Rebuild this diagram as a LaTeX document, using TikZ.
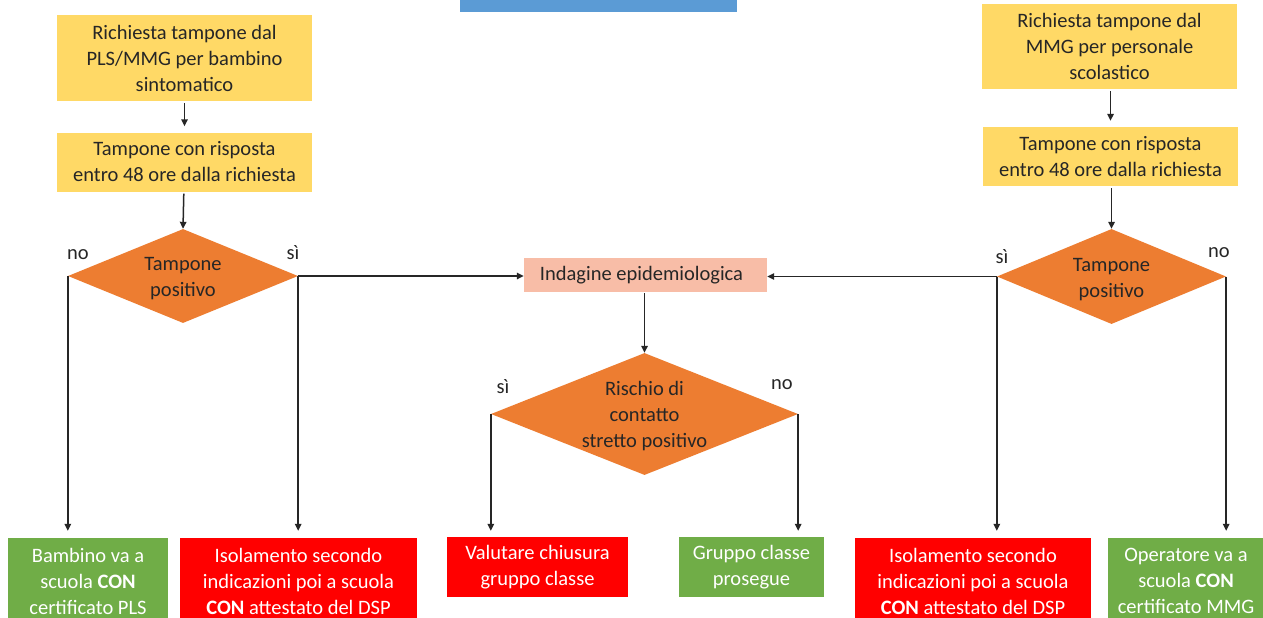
\documentclass[tikz,border=0pt]{standalone}
\usepackage{fontspec}
\setmainfont{Carlito}
\usetikzlibrary{shapes.geometric,arrows.meta}
\definecolor{ybox}{HTML}{FFD966}
\definecolor{obox}{HTML}{ED7D31}
\definecolor{sbox}{HTML}{F8BDA7}
\definecolor{gbox}{HTML}{70AD47}
\definecolor{rbox}{HTML}{FF0000}
\definecolor{bbar}{HTML}{5B9BD5}
\definecolor{ink}{HTML}{262626}
\definecolor{wire}{HTML}{262626}
\tikzset{
  txt/.style={font=\fontsize{20.5}{26}\selectfont},
  boxnode/.style={rectangle, inner sep=0pt, align=center, txt},
  yellowbox/.style={boxnode, fill=ybox, text=ink},
  greenbox/.style={boxnode, fill=gbox, text=white},
  redbox/.style={boxnode, fill=rbox, text=white},
  decision/.style={diamond, fill=obox, inner sep=0pt},
  dtext/.style={txt, text=ink, align=center},
  flow/.style={draw=wire, line width=1.5pt, -{Triangle[length=7pt,width=6.5pt]}},
  tag/.style={txt, text=ink, inner sep=0pt}
}
\begin{document}
\begin{tikzpicture}[x=1pt,y=-1pt]
\useasboundingbox (0,0) rectangle (1263,618);
\clip (0,0) rectangle (1263,618);
\fill[white] (0,0) rectangle (1263,618);

% title bar (cut off)
\node[rectangle, fill=bbar, minimum width=277pt, minimum height=13pt, inner sep=0pt] (title) at (598.5,6) {};

% left column
\node[yellowbox, minimum width=255pt, minimum height=86pt] (l1) at (184.5,58) {Richiesta tampone dal\\PLS/MMG per bambino\\sintomatico};
\node[yellowbox, minimum width=255pt, minimum height=59pt] (l2) at (184.5,162) {Tampone con risposta\\entro 48 ore dalla richiesta};
\node[decision, minimum width=230pt, minimum height=94pt] (ld) at (183,276) {};
\node[dtext] (ldt) at ([yshift=-3pt]ld.center) {Tampone\\positivo};
\node[tag] (ldno) at (78,255) {no};
\node[tag] (ldsi) at (293,253) {sì};

% right column
\node[yellowbox, minimum width=255pt, minimum height=85pt] (r1) at (1109.5,46.5) {Richiesta tampone dal\\MMG per personale\\scolastico};
\node[yellowbox, minimum width=255pt, minimum height=59pt] (r2) at (1110.5,156.5) {Tampone con risposta\\entro 48 ore dalla richiesta};
\node[decision, minimum width=229pt, minimum height=95pt] (rd) at (1111.5,276.5) {};
\node[dtext] (rdt) at ([yshift=-3pt]rd.center) {Tampone\\positivo};
\node[tag] (rdsi) at (1002,257) {sì};
\node[tag] (rdno) at (1219,253) {no};

% centre
\node[boxnode, fill=sbox, text=ink, minimum width=243pt, minimum height=34pt] (ind) at (645.5,275) {Indagine epidemiologica\hspace*{8pt}};
\node[decision, minimum width=307pt, minimum height=122pt] (cd) at (644.5,414) {};
\node[dtext] (cdt) at ([yshift=-2pt]cd.center) {Rischio di\\contatto\\stretto positivo};
\node[tag] (cdsi) at (503,387) {sì};
\node[tag] (cdno) at (782,385) {no};

% outcomes
\node[greenbox, minimum width=160pt, minimum height=86pt] (b1) at (88,581) {Bambino va a\\scuola \textbf{CON}\\certificato PLS};
\node[redbox, minimum width=237pt, minimum height=86pt] (b2) at (298.5,581) {Isolamento secondo\\indicazioni poi a scuola\\\textbf{CON} attestato del DSP};
\node[redbox, minimum width=181pt, minimum height=60pt] (b3) at (537.5,567) {Valutare chiusura\\gruppo classe};
\node[greenbox, minimum width=145pt, minimum height=60pt] (b4) at (751.5,567) {Gruppo classe\\prosegue};
\node[redbox, minimum width=236pt, minimum height=86pt] (b5) at (973,581) {Isolamento secondo\\indicazioni poi a scuola\\\textbf{CON} attestato del DSP};
\node[greenbox, minimum width=156pt, minimum height=86pt] (b6) at (1186,581) {Operatore va a\\scuola \textbf{CON}\\certificato MMG};

% connectors
\draw[flow, shorten <=2pt, shorten >=6pt] (l1) -- (l2);
\draw[flow, shorten <=2pt] (l2) -- (ld.north);
\draw[flow, shorten <=2pt, shorten >=6pt] (r1.south -| r2.north) -- (r2.north);
\draw[flow, shorten <=2pt] (r2.south -| rd.north) -- (rd.north);

\draw[flow] (ld.east) -- (ld.east -| ind.west);
\draw[flow] (rd.west) -- (rd.west -| ind.east);
\draw[flow, shorten <=1pt] (ind.south -| cd.north) -- (cd.north);

\draw[flow, shorten >=7pt] (ld.west) -- (ld.west |- b1.north);
\draw[flow, shorten >=7pt] (ld.east) -- (ld.east |- b2.north);
\draw[flow, shorten >=6pt] (cd.west) -- (cd.west |- b3.north);
\draw[flow, shorten >=6pt] (cd.east) -- (cd.east |- b4.north);
\draw[flow, shorten >=7pt] (rd.west) -- (rd.west |- b5.north);
\draw[flow, shorten >=7pt] (rd.east) -- (rd.east |- b6.north);
\end{tikzpicture}
\end{document}
